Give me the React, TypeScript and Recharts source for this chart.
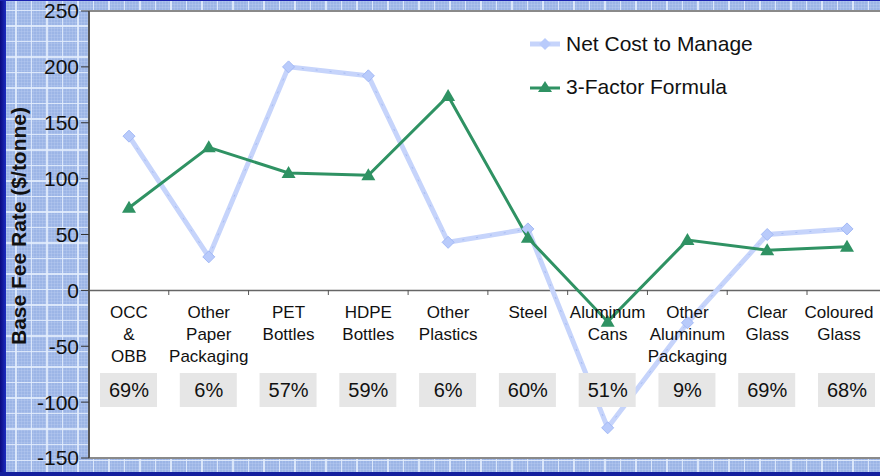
import React from 'react';
import { LineChart, Line, XAxis, YAxis, CartesianGrid, ReferenceLine } from 'recharts';

const categories = [
  'OCC\n&\nOBB',
  'Other\nPaper\nPackaging',
  'PET\nBottles',
  'HDPE\nBottles',
  'Other\nPlastics',
  'Steel',
  'Aluminum\nCans',
  'Other\nAluminum\nPackaging',
  'Clear\nGlass',
  'Coloured\nGlass',
];
const netCost = [138, 30, 200, 192, 43, 55, -123, -29, 50, 55];
const threeFactor = [74, 128, 105, 103, 174, 47, -28, 45, 36, 39];
const shares = ['69%', '6%', '57%', '59%', '6%', '60%', '51%', '9%', '69%', '68%'];
const yTicks = [-150, -100, -50, 0, 50, 100, 150, 200, 250];

const data = categories.map((c, i) => ({
  name: c,
  net: netCost[i],
  formula: threeFactor[i],
}));

const FONT = 'Arial, "Liberation Sans", sans-serif';
const GREEN = '#2f9263';
const LIGHT = '#c6d4fb';

// pixel row of the zero line; category labels hang below it
const ZERO_Y = 290;

const CategoryTick = ({ x, payload, index }: any) => {
  const lines = String(payload.value).split('\n');
  // last label is nudged left so it fits inside the frame
  const lx = index === categories.length - 1 ? x - 8 : x;
  return (
    <g>
      <line x1={x - 40} x2={x - 40} y1={ZERO_Y} y2={ZERO_Y + 5} stroke="#555" strokeWidth={1} />
      {lines.map((l, i) => (
        <text key={i} x={lx} y={ZERO_Y + 28 + i * 22} textAnchor="middle" fontSize={17} fill="#111" fontFamily={FONT}>
          {l}
        </text>
      ))}
      <rect x={x - 29} y={ZERO_Y + 83} width={57} height={34} fill="#e6e6e6" />
      <text x={x} y={ZERO_Y + 107} textAnchor="middle" fontSize={20} fill="#111" fontFamily={FONT}>
        {shares[index]}
      </text>
    </g>
  );
};

const Diamond = ({ cx, cy }: any) => (
  <path d={`M${cx},${cy - 6} L${cx + 6},${cy} L${cx},${cy + 6} L${cx - 6},${cy} Z`} fill="#b9cbfb" stroke="#a3b9f6" strokeWidth={1} />
);

const Triangle = ({ cx, cy }: any) => (
  <path d={`M${cx},${cy - 7} L${cx + 7},${cy + 5} L${cx - 7},${cy + 5} Z`} fill={GREEN} />
);

const LegendBox = () => (
  <div style={{ position: 'absolute', left: 528, top: 29, fontFamily: FONT, fontSize: 21, color: '#111' }}>
    <div style={{ display: 'flex', alignItems: 'center', height: 30 }}>
      <svg width={38} height={14}>
        <line x1={2} x2={32} y1={7} y2={7} stroke={LIGHT} strokeWidth={5} />
        <path d="M17,1 L23,7 L17,13 L11,7 Z" fill="#b9cbfb" />
      </svg>
      <span>Net Cost to Manage</span>
    </div>
    <div style={{ display: 'flex', alignItems: 'center', height: 30, marginTop: 13 }}>
      <svg width={38} height={14}>
        <line x1={2} x2={32} y1={8} y2={8} stroke={GREEN} strokeWidth={3} />
        <path d="M17,1 L24,12 L10,12 Z" fill={GREEN} />
      </svg>
      <span>3-Factor Formula</span>
    </div>
  </div>
);

const bg = {
  backgroundColor: '#9cb5e6',
  backgroundImage:
    'repeating-linear-gradient(90deg, rgba(228,238,253,0.85) 0px, rgba(228,238,253,0.85) 1px, transparent 1px, transparent 15.5px),' +
    'repeating-linear-gradient(0deg, rgba(228,238,253,0.85) 0px, rgba(228,238,253,0.85) 1px, transparent 1px, transparent 15.5px),' +
    'repeating-linear-gradient(90deg, rgba(200,215,245,0.25) 0px, rgba(200,215,245,0.25) 1px, transparent 1px, transparent 3px),' +
    'repeating-linear-gradient(0deg, rgba(200,215,245,0.25) 0px, rgba(200,215,245,0.25) 1px, transparent 1px, transparent 3px)',
};

export default function App() {
  return (
    <div style={{ position: 'absolute', left: 0, top: 0, width: 880, height: 476, overflow: 'hidden', ...bg }}>
      <div style={{ position: 'absolute', left: 0, top: 0, width: 6, height: 476, background: 'linear-gradient(90deg,#0a0a80,#1c2cc0)' }} />
      <div style={{ position: 'absolute', left: 0, top: 0, width: 880, height: 1, background: '#1a22b0' }} />
      <div style={{ position: 'absolute', left: 0, top: 472, width: 880, height: 4, background: '#14209e' }} />
      <div
        style={{
          position: 'absolute',
          left: 19,
          top: 226,
          transform: 'translate(-50%,-50%) rotate(-90deg)',
          fontFamily: FONT,
          fontWeight: 'bold',
          fontSize: 21,
          whiteSpace: 'nowrap',
          color: '#111',
        }}
      >
        Base Fee Rate ($/tonne)
      </div>
      <div style={{ position: 'absolute', left: 0, top: 0 }}>
        <LineChart width={900} height={476} data={data} margin={{ top: 11, right: 13, bottom: 0, left: 0 }}>
          <CartesianGrid horizontal={false} vertical={false} fill="#ffffff" />
          <ReferenceLine y={250} stroke="#8a8a8a" strokeWidth={2} />
          <ReferenceLine y={-150} stroke="#8a8a8a" strokeWidth={2} />
          <ReferenceLine y={0} stroke="#666" strokeWidth={1.5} />
          <XAxis
            dataKey="name"
            axisLine={false}
            tickLine={false}
            height={18}
            interval={0}
            padding={{ left: 40, right: 40 }}
            tick={<CategoryTick />}
          />
          <YAxis
            domain={[-150, 250]}
            ticks={yTicks}
            width={89}
            axisLine={{ stroke: '#555', strokeWidth: 2 }}
            tickLine={{ stroke: '#333' }}
            tickSize={8}
            tick={{ fontSize: 21, fill: '#111', fontFamily: FONT }}
            interval={0}
          />
          <Line dataKey="net" stroke={LIGHT} strokeWidth={5} dot={<Diamond />} isAnimationActive={false} />
          <Line dataKey="net" stroke="#a7bcf4" strokeWidth={1} strokeDasharray="2 12" dot={false} legendType="none" isAnimationActive={false} />
          <Line dataKey="formula" stroke={GREEN} strokeWidth={3} dot={<Triangle />} isAnimationActive={false} />
        </LineChart>
      </div>
      <LegendBox />
    </div>
  );
}
